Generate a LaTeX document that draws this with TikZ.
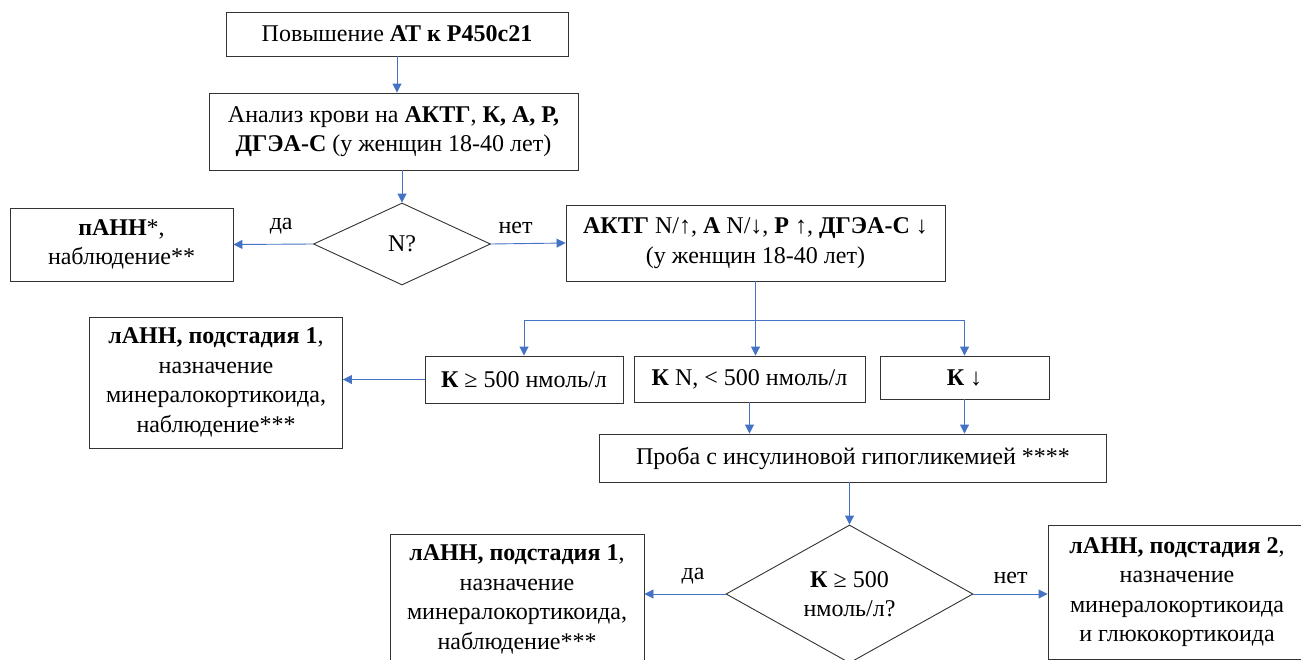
\documentclass[tikz,border=0pt]{standalone}
\usepackage{fontspec}
\setmainfont{Liberation Serif}
\usepackage{tikz}
\usetikzlibrary{calc,arrows.meta,shapes.geometric}
\definecolor{arrblue}{RGB}{68,114,196}

\begin{document}
\begin{tikzpicture}[x=1pt,y=-1pt]
                      \tikzstyle{box}=[rectangle,draw=black!80,line width=0.9pt,align=center,inner sep=2pt,font=\fontsize{24}{29.5}\selectfont]
                      \tikzstyle{dec}=[diamond,draw=black!80,line width=0.9pt,align=center,inner sep=0pt,font=\fontsize{24}{29.5}\selectfont]
                      \tikzstyle{arr}=[draw=arrblue,line width=0.9pt,-{Triangle[length=9pt,width=9pt]}]
                      \tikzstyle{lbl}=[font=\fontsize{24}{29.5}\selectfont]
                      \useasboundingbox (0,0) rectangle (1301,659);
                      \node[box,minimum width=342,minimum height=44] (a) at (397,34) {Повышение \textbf{АТ к Р450с21}};
                      \node[box,minimum width=369,minimum height=77] (b) at (393.5,131.5) {Анализ крови на \textbf{АКТГ}, \textbf{К, А, Р,}\\ \textbf{ДГЭА-С} (у женщин 18-40 лет)};
                      \node[dec,minimum width=177,minimum height=82] (c) at (402,244) {N?};
                      \node[box,minimum width=223,minimum height=73] (d) at (121.5,244.5) {\textbf{пАНН}*,\\ наблюдение**};
                      \node[box,minimum width=379,minimum height=76] (e) at (755.5,243) {\textbf{АКТГ} N/↑, \textbf{А} N/↓, \textbf{Р} ↑, \textbf{ДГЭА-С} ↓\\ (у женщин 18-40 лет)};
                      \node[box,minimum width=198,minimum height=47] (f) at (524,379.5) {\textbf{К} ≥ 500 нмоль/л};
                      \node[box,minimum width=231,minimum height=46] (g) at (749.5,379) {\textbf{К} N, < 500 нмоль/л};
                      \node[box,minimum width=169,minimum height=43] (h) at (964.5,377.5) {\textbf{К} ↓};
                      \node[box,minimum width=253,minimum height=131] (i) at (216,382.5) {\textbf{лАНН, подстадия 1},\\ назначение\\ минералокортикоида,\\ наблюдение***};
                      \node[box,minimum width=507,minimum height=48] (j) at (853,458) {Проба с инсулиновой гипогликемией ****};
                      \node[dec,minimum width=247,minimum height=138] (k) at (849.5,594) {\textbf{К} ≥ 500\\ нмоль/л?};
                      \node[box,minimum width=254,minimum height=131] (l) at (517,599.5) {\textbf{лАНН, подстадия 1},\\ назначение\\ минералокортикоида,\\ наблюдение***};
                      \node[box,minimum width=258,minimum height=134] (m) at (1177,592) {\textbf{лАНН, подстадия 2},\\ назначение\\ минералокортикоида\\ и глюкокортикоида};
                      \coordinate (br) at (0,320);
                      \draw[arr] (a.south) -- (a.south |- b.north);
                      \draw[arr] (b.south -| c.north) -- (c.north);
                      \draw[arr] (c.west) -- (d.east) node [lbl,pos=0.4,above=6pt] {да};
                      \draw[arr] (c.east) -- (e.west) node [lbl,pos=0.33,above=6pt] {нет};
                      \draw[arrblue,line width=0.9pt] (br -| f.north) -- (br -| h.north);
                      \draw[arr] (e.south) -- (e.south |- g.north);
                      \draw[arr] (br -| f.north) -- (f.north);
                      \draw[arr] (br -| h.north) -- (h.north);
                      \draw[arr] (f.west) -- (f.west -| i.east);
                      \draw[arr] (g.south) -- (g.south |- j.north);
                      \draw[arr] (h.south) -- (h.south |- j.north);
                      \draw[arr] (j.south -| k.north) -- (k.north);
                      \draw[arr] (k.west) -- (k.west -| l.east) node [lbl,pos=0.4,above=6pt] {да};
                      \draw[arr] (k.east) -- (k.east -| m.west) node [lbl,midway,above=6pt] {нет};
                  \end{tikzpicture}
\end{document}
